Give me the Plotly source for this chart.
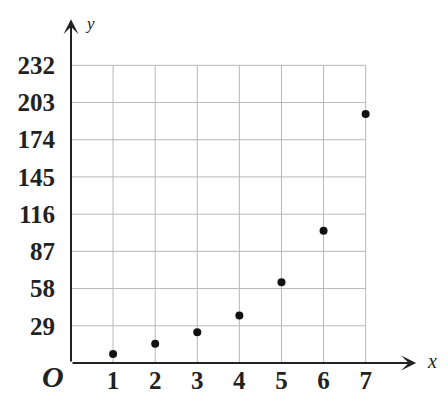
import plotly.graph_objects as go

# Data
x_values = [1, 2, 3, 4, 5, 6, 7]
y_values = [7, 15, 24, 37, 63, 103, 194]

# Tick labels
x_ticks = [1, 2, 3, 4, 5, 6, 7]
y_ticks = [29, 58, 87, 116, 145, 174, 203, 232]

X_MAX = 8.6
Y_MAX = 272
X_ARROW = 8.2
Y_ARROW = 268

tick_font = dict(family="Liberation Serif", size=25, color="#222222", weight="bold")

fig = go.Figure()

fig.add_trace(go.Scatter(
    x=x_values, y=y_values, mode="markers",
    marker=dict(color="#111111", size=8),
    showlegend=False, cliponaxis=False,
))

grid_color = "#b8b8b8"
shapes = []
for xv in x_ticks:
    shapes.append(dict(type="line", xref="x", yref="y", x0=xv, x1=xv,
                       y0=0, y1=max(y_ticks), line=dict(color=grid_color, width=1),
                       layer="below"))
for yv in y_ticks:
    shapes.append(dict(type="line", xref="x", yref="y", x0=0, x1=max(x_ticks),
                       y0=yv, y1=yv, line=dict(color=grid_color, width=1),
                       layer="below"))

annotations = [
    # x axis arrow
    dict(x=X_ARROW, y=0, ax=0, ay=0, xref="x", yref="y", axref="x", ayref="y",
         showarrow=True, arrowhead=3, arrowsize=1.25, arrowwidth=2,
         arrowcolor="#222222", text="", standoff=0, startstandoff=0),
    # y axis arrow
    dict(x=0, y=Y_ARROW, ax=0, ay=0, xref="x", yref="y", axref="x", ayref="y",
         showarrow=True, arrowhead=3, arrowsize=1.25, arrowwidth=2,
         arrowcolor="#222222", text="", standoff=0, startstandoff=0),
    # labels
    dict(x=0, y=0, xref="x", yref="y", text="<b><i>O</i></b>", showarrow=False,
         xshift=-18, yshift=-13,
         font=dict(family="Liberation Serif", size=30, color="#222222")),
    dict(x=X_ARROW, y=0, xref="x", yref="y", text="<i>x</i>", showarrow=False,
         xshift=16, yshift=2,
         font=dict(family="Liberation Serif", size=20, color="#222222")),
    dict(x=0, y=Y_ARROW, xref="x", yref="y", text="<i>y</i>", showarrow=False,
         xshift=19, yshift=-4,
         font=dict(family="Liberation Serif", size=17, color="#222222")),
]

# The page body adds an 8px offset, so the figure is sized 8px smaller
fig.update_layout(
    width=440, height=403,
    margin=dict(l=63, r=15, t=6, b=48),
    paper_bgcolor="white", plot_bgcolor="white",
    shapes=shapes, annotations=annotations,
    xaxis=dict(range=[0, X_MAX], tickvals=x_ticks, ticktext=[str(v) for v in x_ticks],
               showgrid=False, zeroline=False, showline=False,
               ticks="", tickfont=tick_font, automargin=False),
    yaxis=dict(range=[0, Y_MAX], tickvals=y_ticks, ticktext=[str(v) for v in y_ticks],
               showgrid=False, zeroline=False, showline=False,
               ticks="outside", ticklen=10, tickcolor="rgba(0,0,0,0)",
               tickfont=tick_font, automargin=False),
)

fig.write_html("out.html")
